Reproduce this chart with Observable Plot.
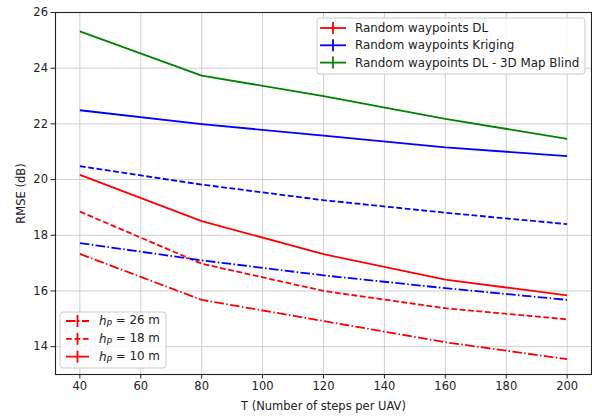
<!DOCTYPE html>
<html>
<head>
<meta charset="utf-8">
<script src="https://cdn.jsdelivr.net/npm/d3@7"></script>
<script src="https://cdn.jsdelivr.net/npm/@observablehq/plot@0.6"></script>
<style>
  html, body { margin: 0; padding: 0; background: #fff; }
  svg { font-family: "DejaVu Sans", sans-serif; }
</style>
</head>
<body>
<div id="chart"></div>
<script>
// ---- data ----
const T = [40, 80, 120, 160, 200];
const dl_h10 = [20.17, 18.51, 17.32, 16.41, 15.84];
const dl_h18 = [18.85, 16.98, 16.00, 15.38, 14.98];
const dl_h26 = [17.33, 15.68, 14.92, 14.16, 13.55];
const kriging_h10 = [22.49, 21.99, 21.58, 21.16, 20.84];
const kriging_h18 = [20.48, 19.82, 19.26, 18.81, 18.40];
const kriging_h26 = [17.72, 17.10, 16.56, 16.10, 15.68];
const blind_h10 = [25.32, 23.73, 23.00, 22.18, 21.46];

const methodNames = ["Random waypoints DL", "Random waypoints Kriging", "Random waypoints DL - 3D Map Blind"];
const methodColors = ["#ff0000", "#0000ff", "#008000"];
const heightLabels = [26, 18, 10];
const xTicks = [40, 60, 80, 100, 120, 140, 160, 180, 200];
const yTicks = [14, 16, 18, 20, 22, 24, 26];

const series = [
  {method: 0, h: 10, values: dl_h10},
  {method: 0, h: 18, values: dl_h18},
  {method: 0, h: 26, values: dl_h26},
  {method: 1, h: 10, values: kriging_h10},
  {method: 1, h: 18, values: kriging_h18},
  {method: 1, h: 26, values: kriging_h26},
  {method: 2, h: 10, values: blind_h10}
];
const rows = series.flatMap(s => s.values.map((v, i) => ({
  T: T[i], v, key: s.method + "-" + s.h, h: s.h, color: methodColors[s.method]
})));

const dashes = {10: null, 18: "5.8,2.6", 26: "9.6,2.4,1.5,2.4"};

const W = 592, H = 416;
const mL = 55, mR = 1, mT = 12, mB = 42;

const lineMarks = [10, 18, 26].map(h => Plot.line(rows.filter(d => d.h === h), {
  x: "T", y: "v", z: "key", stroke: "color", strokeWidth: 1.8,
  strokeDasharray: dashes[h] || undefined, strokeLinejoin: "round", strokeLinecap: "butt"
}));

const plot = Plot.plot({
  width: W, height: H,
  marginLeft: mL, marginRight: mR, marginTop: mT, marginBottom: mB,
  style: {fontFamily: "DejaVu Sans, sans-serif", fontSize: "11px", color: "#222", background: "#fff"},
  color: {type: "identity"},
  x: {domain: [32, 208], ticks: xTicks, tickSize: 4.5, tickPadding: 3, label: null},
  y: {domain: [13, 26], ticks: yTicks, tickSize: 4.5, tickPadding: 3, label: null},
  marks: [
    Plot.gridX(xTicks, {stroke: "#cfcfcf", strokeOpacity: 1, strokeWidth: 1}),
    Plot.gridY(yTicks, {stroke: "#cfcfcf", strokeOpacity: 1, strokeWidth: 1}),
    ...lineMarks,
    Plot.axisX({ticks: xTicks, tickSize: 4.5, tickPadding: 3, fontSize: 11.5,
      label: "T (Number of steps per UAV)", labelAnchor: "center", labelArrow: "none", labelOffset: 35}),
    Plot.axisY({ticks: yTicks, tickSize: 4.5, tickPadding: 3, fontSize: 11.5,
      label: "RMSE (dB)", labelAnchor: "center", labelArrow: "none", labelOffset: 39}),
    Plot.frame({stroke: "#222", strokeWidth: 1.1})
  ]
});

document.getElementById("chart").appendChild(plot);

// ---- legends ----
const svg = d3.select(plot);

function legendBox(g, x, y, w, h) {
  g.append("rect").attr("x", x).attr("y", y).attr("width", w).attr("height", h)
    .attr("rx", 3)
    .style("fill", "#ffffff").style("fill-opacity", 0.85)
    .style("stroke", "#cccccc").style("stroke-width", 1);
}
function handle(g, x0, x1, y, color, dash) {
  g.append("line").attr("x1", x0).attr("x2", x1).attr("y1", y).attr("y2", y)
    .style("stroke", color).style("stroke-width", 1.8)
    .style("stroke-dasharray", dash || "none");
  const cx = (x0 + x1) / 2;
  g.append("line").attr("x1", cx).attr("x2", cx).attr("y1", y - 6).attr("y2", y + 6)
    .style("stroke", color).style("stroke-width", 1.8);
}

// upper-right legend (methods)
const g1 = svg.append("g").attr("text-anchor", "start");
legendBox(g1, 317, 18, 268, 56);
methodNames.forEach((name, i) => {
  const y = 28 + i * 17.3;
  handle(g1, 320, 346, y, methodColors[i], null);
  g1.append("text").attr("x", 355).attr("y", y).attr("dy", "0.35em")
    .attr("text-anchor", "start")
    .style("font-size", "11.9px").style("fill", "#222").text(name);
});

// lower-left legend (heights)
const g2 = svg.append("g").attr("text-anchor", "start");
legendBox(g2, 60, 312, 106, 56);
heightLabels.forEach((h, i) => {
  const y = 321 + i * 17.8;
  handle(g2, 66, 89, y, "#ff0000", dashes[h]);
  const t = g2.append("text").attr("x", 99).attr("y", y).attr("dy", "0.35em")
    .attr("text-anchor", "start")
    .style("font-size", "11.9px").style("fill", "#222");
  t.append("tspan").style("font-style", "italic").text("h");
  t.append("tspan").style("font-style", "italic").style("font-size", "8.8px").attr("dy", "0.25em").text("P");
  t.append("tspan").attr("dy", "-0.25em").text(" = " + h + " m");
});
</script>
</body>
</html>
